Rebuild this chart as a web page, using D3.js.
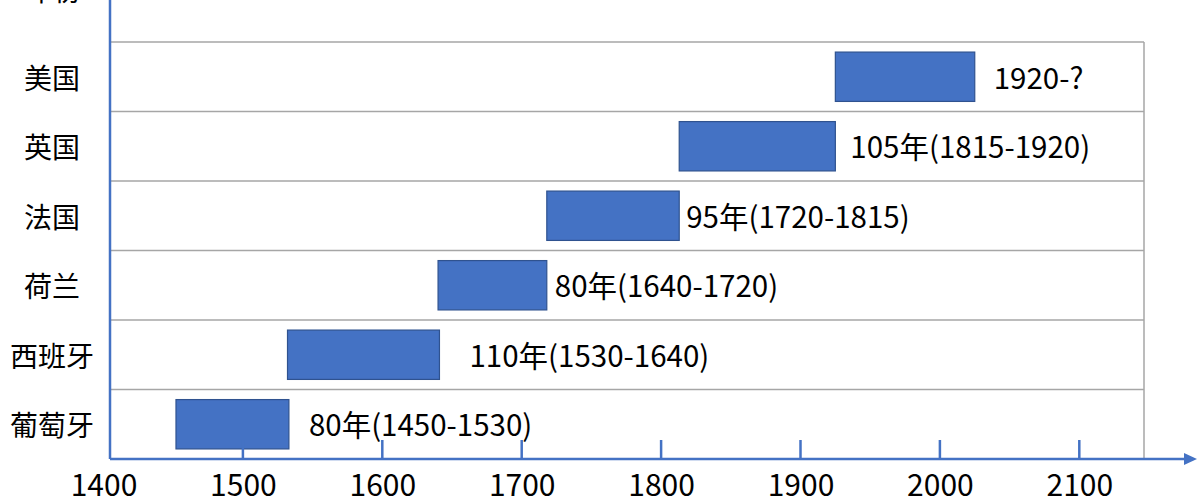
<!DOCTYPE html>
<html><head><meta charset="utf-8">
<script src="https://cdn.jsdelivr.net/npm/d3@7"></script>
<style>
html,body{margin:0;padding:0;background:#fff;}
svg text{font-family:"Noto Sans CJK SC","Noto Sans",sans-serif;fill:#000;}
</style></head>
<body>
<svg id="c" width="1203" height="496"></svg>
<script>
// Data
const countries = ["美国","英国","法国","荷兰","西班牙","葡萄牙"];
const startYears = [1925, 1813, 1718, 1640, 1532, 1452];
const endYears   = [2025, 1925, 1813, 1718, 1641, 1533];
const barLabels  = ["1920-?","105年(1815-1920)","95年(1720-1815)","80年(1640-1720)","110年(1530-1640)","80年(1450-1530)"];
const tickYears  = [1400,1500,1600,1700,1800,1900,2000,2100];
const axisTitle  = "年份";

// Layout
const labelDx = [19, 15, 7, 8, 30, 20];
const axisX = 110, plotTop = 42, plotBottom = 459, plotRight = 1144, arrowEnd = 1197;
const blue = "#4472C4";

const svg = d3.select("#c");
const x = d3.scaleLinear().domain([1400,2100]).range([103.5,1079.3]);
const y = d3.scaleBand().domain(countries).range([plotTop, plotBottom]).padding(0);
const bh = y.bandwidth()*0.71;

// grid lines (row separators)
const gridG = svg.append("g");
gridG.selectAll("line.h").data(countries).enter().append("line")
  .attr("x1", axisX).attr("x2", plotRight)
  .attr("y1", d=>y(d)).attr("y2", d=>y(d))
  .attr("stroke","#a6a6a6").attr("stroke-width",1.5);
gridG.append("line").attr("x1",plotRight).attr("x2",plotRight)
  .attr("y1",plotTop).attr("y2",plotBottom)
  .attr("stroke","#a6a6a6").attr("stroke-width",1.5);

// bars
svg.append("g").selectAll("rect").data(countries).enter().append("rect")
  .attr("x",(d,i)=>x(startYears[i]))
  .attr("width",(d,i)=>x(endYears[i])-x(startYears[i]))
  .attr("y",d=>y(d)+(y.bandwidth()-bh)/2)
  .attr("height",bh)
  .attr("fill",blue).attr("stroke","#2F528F").attr("stroke-width",1.2);

// bar labels
svg.append("g").selectAll("text").data(countries).enter().append("text")
  .attr("x",(d,i)=>x(endYears[i])+labelDx[i])
  .attr("y",d=>y(d)+y.bandwidth()/2-1)
  .attr("dominant-baseline","central")
  .attr("font-size",29.5)
  .text((d,i)=>barLabels[i]);

// row labels
svg.append("g").selectAll("text").data(countries).enter().append("text")
  .attr("x",52).attr("y",d=>y(d)+y.bandwidth()/2)
  .attr("text-anchor","middle").attr("dominant-baseline","central")
  .attr("font-size",28).text(d=>d);

// axis title (partially cut at top, as in the reference)
svg.append("text").attr("x",54).attr("y",-11)
  .attr("text-anchor","middle").attr("dominant-baseline","central")
  .attr("font-size",28).text(axisTitle);

// y axis line
svg.append("line").attr("x1",axisX).attr("x2",axisX).attr("y1",0).attr("y2",plotBottom)
  .attr("stroke",blue).attr("stroke-width",2.5);

// x axis
const xAxis = d3.axisBottom(x).tickValues(tickYears).tickSize(0).tickFormat(d3.format("d"));
const ax = svg.append("g").attr("transform",`translate(0,${plotBottom})`).call(xAxis);
ax.select(".domain").remove();
ax.selectAll("text").attr("font-size",30).attr("y",37).attr("dy",0)
  .style("font-family","'Noto Sans CJK SC','Noto Sans',sans-serif").attr("fill","#000");
svg.append("g").selectAll("line").data(tickYears.filter(t=>x(t)>axisX)).enter().append("line")
  .attr("x1",d=>x(d)).attr("x2",d=>x(d)).attr("y1",plotBottom-19).attr("y2",plotBottom)
  .attr("stroke",blue).attr("stroke-width",2.5);
svg.append("line").attr("x1",axisX).attr("x2",arrowEnd-10).attr("y1",plotBottom).attr("y2",plotBottom)
  .attr("stroke",blue).attr("stroke-width",2.5);
svg.append("path").attr("d",`M${arrowEnd},${plotBottom} L${arrowEnd-13},${plotBottom-6} L${arrowEnd-13},${plotBottom+6} Z`)
  .attr("fill",blue);
</script>
</body></html>
